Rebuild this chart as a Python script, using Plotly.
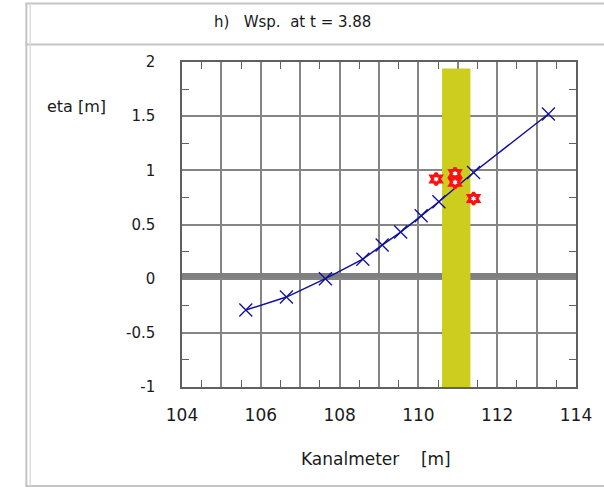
import plotly.graph_objects as go

# ---- data ----
x_eta = [105.62, 106.65, 107.64, 108.59, 109.08, 109.55, 110.07, 110.52, 111.40, 113.30]
eta = [-0.29, -0.17, 0.0, 0.18, 0.31, 0.43, 0.58, 0.71, 0.98, 1.52]

star_x = [110.45, 110.93, 110.93, 111.40]
star_y = [0.92, 0.97, 0.89, 0.74]

still_water_level = 0.03
band_x = [110.60, 111.32]
band_y = [-1.0, 1.94]

x_range = [104, 114]
y_range = [-1, 2]
x_tickvals = list(range(104, 115))
x_ticktext = [str(v) if v % 2 == 0 else "" for v in x_tickvals]
y_tickvals = [-1, -0.5, 0, 0.5, 1, 1.5, 2]
y_ticktext = ["-1", "-0.5", "0", "0.5", "1", "1.5", "2"]
x_minor = [v + 0.5 for v in range(104, 114)]
y_minor = [-0.75, -0.25, 0.25, 0.75, 1.25, 1.75]

title_text = "h)\u00a0\u00a0\u00a0Wsp.\u00a0 at t\u00a0=\u00a03.88"
x_title = "Kanalmeter\u00a0\u00a0\u00a0\u00a0[m]"
y_title = "eta [m]"

FONT = "DejaVu Sans"
W, H = 604, 491
L, R, T, B = 182, 17, 62, 104
pw, ph = W - L - R, H - T - B


def px(xpix):
    return (xpix - L) / pw


def py(ypix):
    return (H - B - ypix) / ph


fig = go.Figure()
fig.add_trace(go.Scatter(
    x=x_eta, y=eta, mode="lines+markers",
    line=dict(color="#10109a", width=1.5),
    marker=dict(symbol="x-thin-open", size=13, line=dict(color="#10109a", width=1.3)),
    showlegend=False, hoverinfo="skip"))
fig.add_trace(go.Scatter(
    x=star_x, y=star_y, mode="markers",
    marker=dict(symbol="hexagram", size=9, color="white", line=dict(color="#ff1010", width=3)),
    showlegend=False, hoverinfo="skip"))
# empty trace to create the mirrored tick axes (top / right)
fig.add_trace(go.Scatter(x=[], y=[], xaxis="x2", yaxis="y2", showlegend=False, hoverinfo="skip"))

shapes = [
    dict(type="line", xref="x", yref="y", x0=x_range[0], x1=x_range[1],
         y0=still_water_level, y1=still_water_level,
         line=dict(color="#808080", width=5), layer="between"),
    dict(type="rect", xref="x", yref="y", x0=band_x[0], x1=band_x[1],
         y0=band_y[0], y1=band_y[1], fillcolor="#cdcd1e", line=dict(width=0), layer="between"),
    # outer panel borders
    dict(type="line", xref="paper", yref="paper", x0=px(21), x1=px(620), y0=py(3.5), y1=py(3.5),
         line=dict(color="#c4c4c4", width=2)),
    dict(type="line", xref="paper", yref="paper", x0=px(21), x1=px(620), y0=py(44.5), y1=py(44.5),
         line=dict(color="#c4c4c4", width=2)),
    dict(type="line", xref="paper", yref="paper", x0=px(21), x1=px(620), y0=py(486), y1=py(486),
         line=dict(color="#c4c4c4", width=2)),
    dict(type="line", xref="paper", yref="paper", x0=px(22), x1=px(22), y0=py(3.5), y1=py(486),
         line=dict(color="#c4c4c4", width=2)),
    dict(type="line", xref="paper", yref="paper", x0=px(26), x1=px(26), y0=py(3.5), y1=py(486),
         line=dict(color="#dcdcdc", width=1.5)),
]

annotations = [
    dict(text=title_text, xref="paper", yref="paper", x=px(296), y=py(22),
         xanchor="center", yanchor="middle", showarrow=False,
         font=dict(family=FONT, size=15, color="#1a1a1a")),
    dict(text=x_title, xref="paper", yref="paper", x=px(381), y=py(459),
         xanchor="center", yanchor="middle", showarrow=False,
         font=dict(family=FONT, size=17, color="#1a1a1a")),
    dict(text=y_title, xref="paper", yref="paper", x=px(41), y=py(107),
         xanchor="left", yanchor="middle", showarrow=False,
         font=dict(family=FONT, size=16, color="#1a1a1a")),
]

minor_style = dict(tickmode="array", ticks="inside", ticklen=7, tickcolor="#606060",
                   tickwidth=1.3, showgrid=False)

fig.update_layout(
    width=W, height=H, autosize=False,
    margin=dict(l=L, r=R, t=T, b=B, pad=0),
    paper_bgcolor="white", plot_bgcolor="white",
    shapes=shapes, annotations=annotations,
    showlegend=False,
    xaxis=dict(
        range=x_range, tickmode="array", tickvals=x_tickvals, ticktext=x_ticktext,
        showgrid=True, gridcolor="#858585", gridwidth=1.5,
        showline=True, linecolor="#606060", linewidth=1.5, mirror=True,
        ticks="", ticklabelstandoff=12, zeroline=False,
        tickfont=dict(family=FONT, size=17, color="#1a1a1a"),
        minor=dict(tickvals=x_minor, **minor_style),
    ),
    yaxis=dict(
        range=y_range, tickmode="array", tickvals=y_tickvals, ticktext=y_ticktext,
        showgrid=True, gridcolor="#858585", gridwidth=1.5,
        showline=True, linecolor="#606060", linewidth=1.5, mirror=True,
        ticks="", ticklabelstandoff=22, zeroline=False,
        tickfont=dict(family=FONT, size=15, color="#1a1a1a"),
        minor=dict(tickvals=y_minor, **minor_style),
    ),
    xaxis2=dict(
        range=x_range, overlaying="x", side="top", anchor="y2",
        showgrid=False, zeroline=False, showline=False, showticklabels=False,
        tickmode="array", tickvals=x_tickvals, ticks="",
        minor=dict(tickvals=x_minor, **minor_style),
    ),
    yaxis2=dict(
        range=y_range, overlaying="y", side="right", anchor="x2",
        showgrid=False, zeroline=False, showline=False, showticklabels=False,
        tickmode="array", tickvals=y_tickvals, ticks="",
        minor=dict(tickvals=y_minor, **minor_style),
    ),
)

fig.write_html("out.html")
